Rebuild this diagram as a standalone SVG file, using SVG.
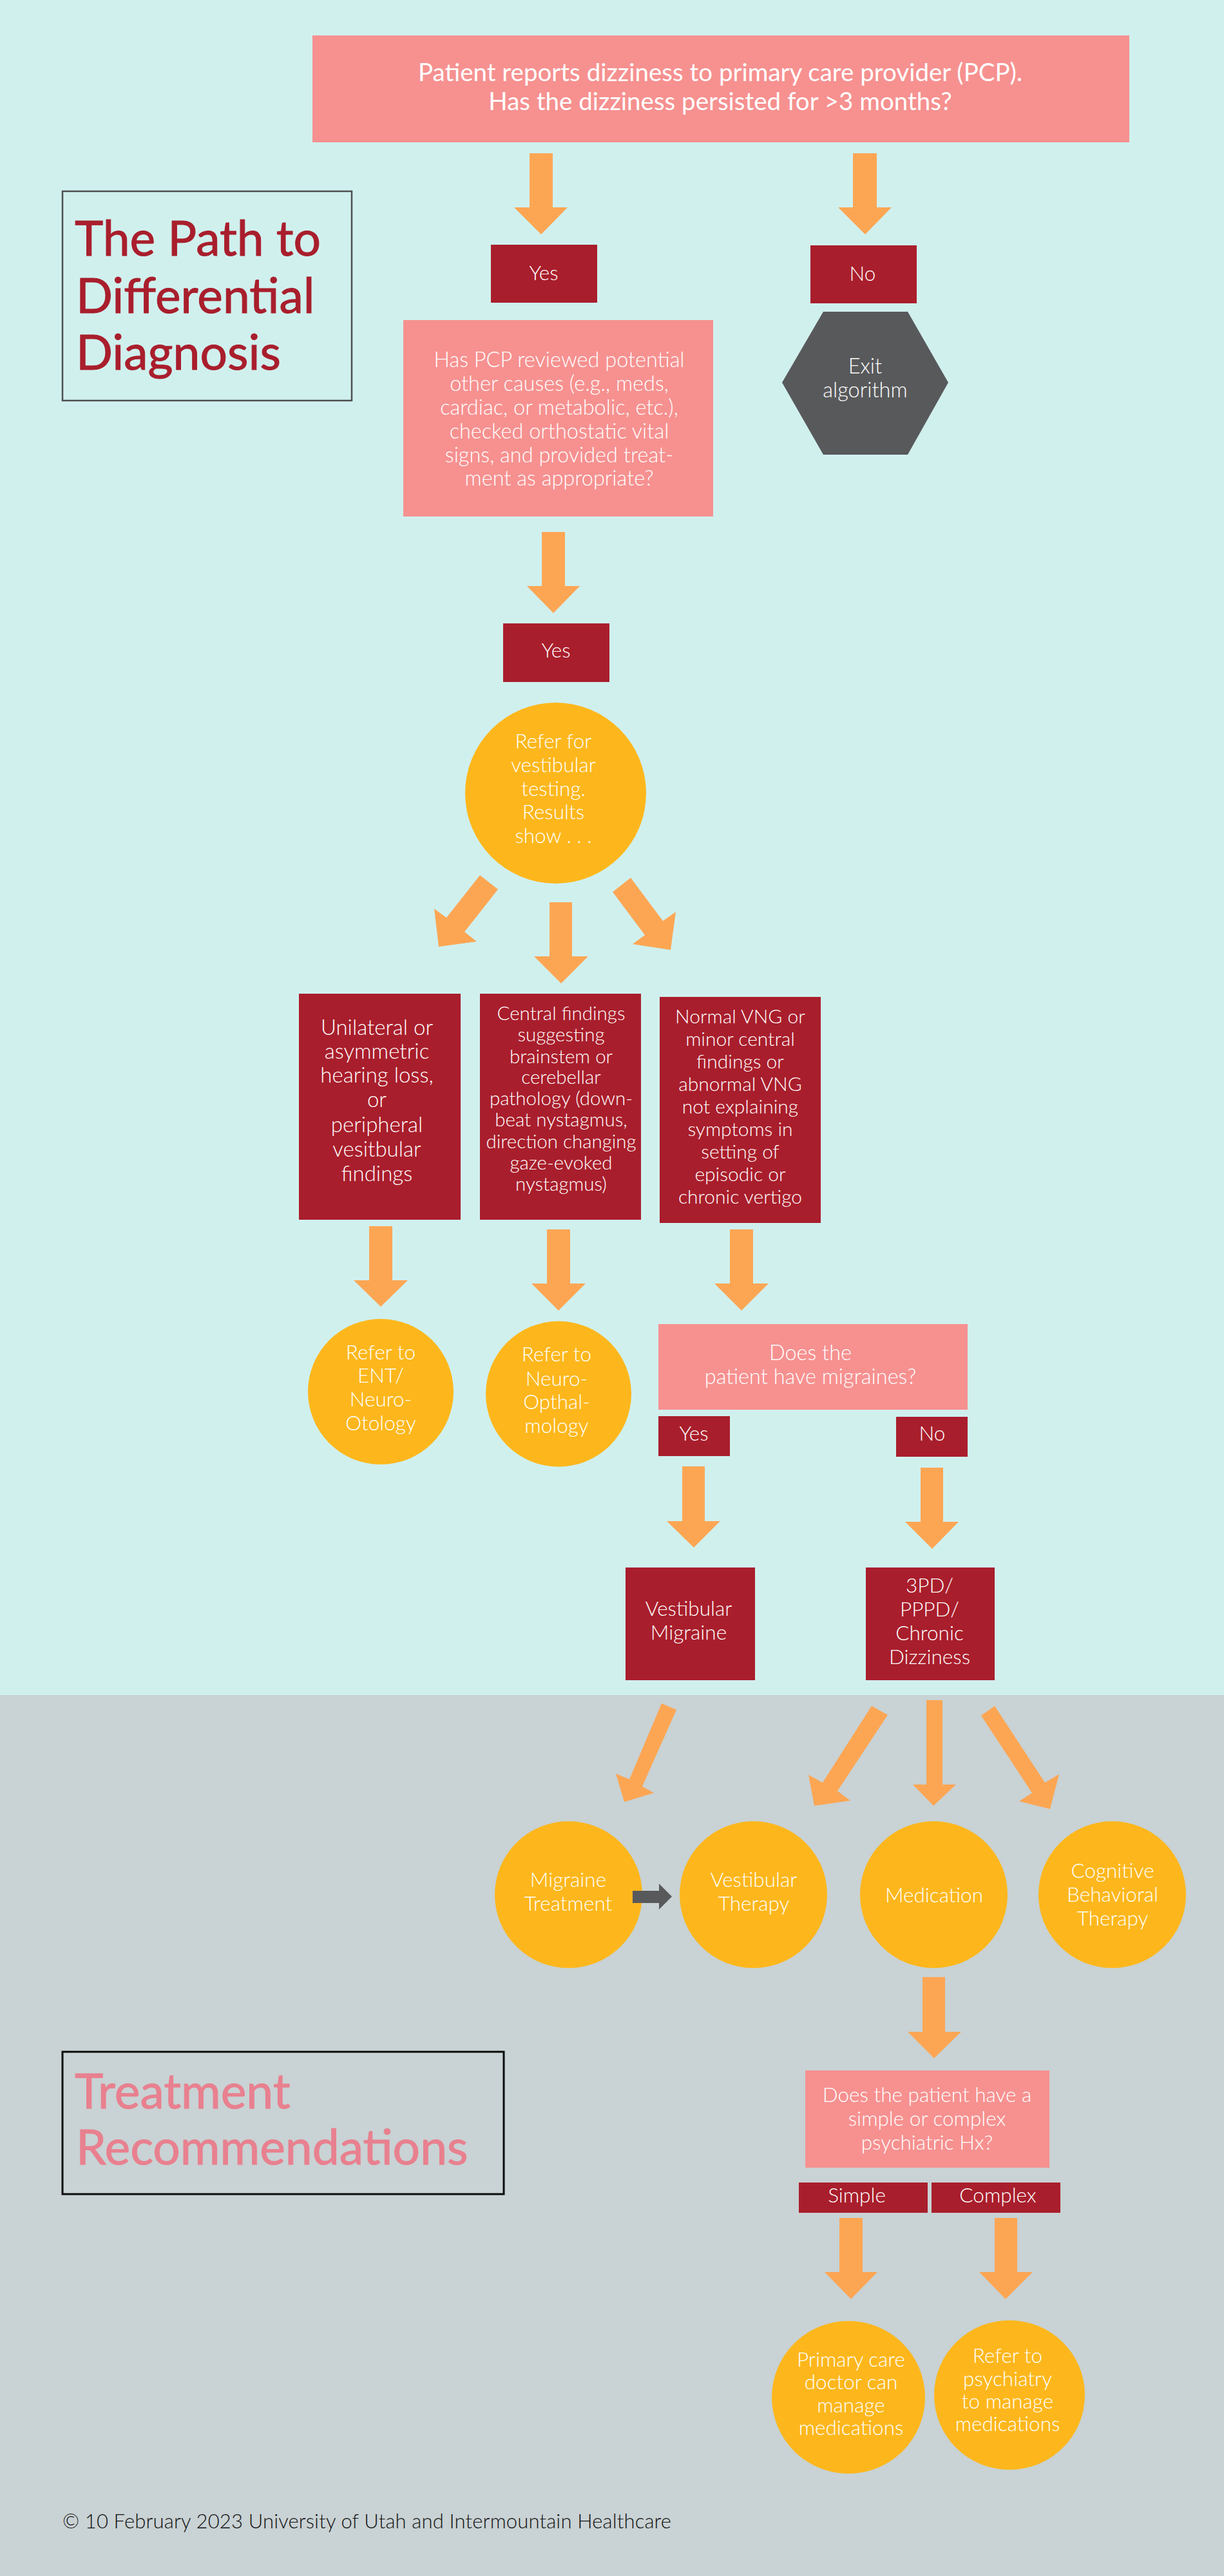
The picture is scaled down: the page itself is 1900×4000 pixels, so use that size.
<svg xmlns="http://www.w3.org/2000/svg" width="1900" height="4000" viewBox="0 0 1900 4000">
<style>
text{font-family:Lato,"Open Sans","Liberation Sans",sans-serif;font-weight:300;fill:#fff;text-anchor:middle}
.pink{fill:#F69190}.red{fill:#A91E2C}.gold{fill:#FDB71C}.arr{fill:#FCA654}
.s38{font-size:38.5px;font-weight:400}.s33{font-size:33px}.s32{font-size:32.5px}.s31{font-size:31.5px}.s30{font-size:30px}.s29{font-size:29.5px}
.h{font-size:75px;text-anchor:start;font-weight:400;stroke-width:1}
.hr{fill:#A91E2C;stroke:#A91E2C}.hp{fill:#E8808F;stroke:#E8808F}
</style>
<rect width="1900" height="2632" fill="#D0F0EE"/>
<rect y="2632" width="1900" height="1368" fill="#C9D2D4"/>
<g id="title1"><rect x="97" y="297" width="449" height="325" fill="none" stroke="#4D4F51" stroke-width="2.5"/>
<text class="h hr" x="116" y="397">The Path to</text>
<text class="h hr" x="118" y="486">Differential</text>
<text class="h hr" x="118" y="574">Diagnosis</text></g>
<g id="n-start"><rect class="pink" x="485" y="55" width="1268" height="166"/>
<text class="s38" x="1118" y="126">Patient reports dizziness to primary care provider (PCP).</text>
<text class="s38" x="1118" y="171">Has the dizziness persisted for &gt;3 months?</text></g>
<g id="n-yes1"><rect class="red" x="762" y="380" width="165" height="90"/><text class="s31" x="844" y="435">Yes</text></g>
<g id="n-no1"><rect class="red" x="1258" y="381" width="165" height="90"/><text class="s31" x="1339" y="436">No</text></g>
<g id="n-exit"><polygon fill="#58595B" points="1278,484 1409,484 1472,594 1409,706 1278,706 1214,594"/>
<text class="s32" x="1343" y="580">Exit</text><text class="s32" x="1343" y="617">algorithm</text></g>
<g id="n-review"><rect class="pink" x="626" y="497" width="481" height="305"/>
<text class="s32" x="868" y="570">Has PCP reviewed potential</text>
<text class="s32" x="868" y="607">other causes (e.g., meds,</text>
<text class="s32" x="868" y="644">cardiac, or metabolic, etc.),</text>
<text class="s32" x="868" y="681">checked orthostatic vital</text>
<text class="s32" x="868" y="718">signs, and provided treat-</text>
<text class="s32" x="868" y="754">ment as appropriate?</text></g>
<g id="n-yes2"><rect class="red" x="781" y="968" width="165" height="91"/><text class="s31" x="863" y="1021">Yes</text></g>
<g id="n-testing"><ellipse class="gold" cx="862.5" cy="1231.5" rx="140.5" ry="140.5"/>
<text class="s31" x="859" y="1162">Refer for</text>
<text class="s31" x="859" y="1199">vestibular</text>
<text class="s31" x="859" y="1236">testing.</text>
<text class="s31" x="859" y="1272">Results</text>
<text class="s31" x="859" y="1309">show . . .</text></g>
<g id="n-a"><rect class="red" x="464" y="1543" width="251" height="351"/>
<text class="s33" x="585" y="1607">Unilateral or</text>
<text class="s33" x="585" y="1644">asymmetric</text>
<text class="s33" x="585" y="1681">hearing loss,</text>
<text class="s33" x="585" y="1719">or</text>
<text class="s33" x="585" y="1758">peripheral</text>
<text class="s33" x="585" y="1796">vesitbular</text>
<text class="s33" x="585" y="1834">findings</text></g>
<g id="n-b"><rect class="red" x="745" y="1543" width="250" height="351"/>
<text class="s29" x="871" y="1584">Central findings</text>
<text class="s29" x="871" y="1617">suggesting</text>
<text class="s29" x="871" y="1651">brainstem or</text>
<text class="s29" x="871" y="1683">cerebellar</text>
<text class="s29" x="871" y="1716">pathology (down-</text>
<text class="s29" x="871" y="1749">beat nystagmus,</text>
<text class="s29" x="871" y="1783">direction changing</text>
<text class="s29" x="871" y="1816">gaze-evoked</text>
<text class="s29" x="871" y="1849">nystagmus)</text></g>
<g id="n-c"><rect class="red" x="1024" y="1548" width="250" height="351"/>
<text class="s30" x="1149" y="1589">Normal VNG or</text>
<text class="s30" x="1149" y="1624">minor central</text>
<text class="s30" x="1149" y="1659">findings or</text>
<text class="s30" x="1149" y="1694">abnormal VNG</text>
<text class="s30" x="1149" y="1729">not explaining</text>
<text class="s30" x="1149" y="1764">symptoms in</text>
<text class="s30" x="1149" y="1799">setting of</text>
<text class="s30" x="1149" y="1834">episodic or</text>
<text class="s30" x="1149" y="1869">chronic vertigo</text></g>
<g id="n-ent"><ellipse class="gold" cx="591" cy="2161" rx="113" ry="113"/>
<text class="s31" x="591" y="2111">Refer to</text><text class="s31" x="591" y="2147">ENT/</text><text class="s31" x="591" y="2184">Neuro-</text><text class="s31" x="591" y="2221">Otology</text></g>
<g id="n-neuro"><ellipse class="gold" cx="867" cy="2164.5" rx="113" ry="113"/>
<text class="s31" x="864" y="2114">Refer to</text><text class="s31" x="864" y="2152">Neuro-</text><text class="s31" x="864" y="2188">Opthal-</text><text class="s31" x="864" y="2225">mology</text></g>
<g id="n-migq"><rect class="pink" x="1022" y="2056" width="480" height="133"/>
<text class="s32" x="1258" y="2112">Does the</text><text class="s32" x="1258" y="2149">patient have migraines?</text></g>
<g id="n-yes3"><rect class="red" x="1022" y="2199" width="111" height="62"/><text class="s31" x="1077" y="2237">Yes</text></g>
<g id="n-no3"><rect class="red" x="1391" y="2200" width="111" height="62"/><text class="s31" x="1447" y="2237">No</text></g>
<g id="n-vm"><rect class="red" x="971" y="2434" width="201" height="175"/>
<text class="s31" x="1069" y="2509">Vestibular</text><text class="s31" x="1069" y="2546">Migraine</text></g>
<g id="n-3pd"><rect class="red" x="1344" y="2434" width="200" height="175"/>
<text class="s31" x="1443" y="2473">3PD/</text><text class="s31" x="1443" y="2510">PPPD/</text><text class="s31" x="1443" y="2547">Chronic</text><text class="s31" x="1443" y="2584">Dizziness</text></g>
<g id="n-mt"><ellipse class="gold" cx="882.5" cy="2942" rx="114.5" ry="114"/>
<text class="s31" x="882" y="2930">Migraine</text><text class="s31" x="882" y="2967">Treatment</text></g>
<g id="n-vt"><ellipse class="gold" cx="1169.5" cy="2942" rx="114.5" ry="114"/>
<text class="s31" x="1170" y="2930">Vestibular</text><text class="s31" x="1170" y="2967">Therapy</text></g>
<g id="n-med"><ellipse class="gold" cx="1449.5" cy="2942" rx="114.5" ry="114"/>
<text class="s31" x="1450" y="2954">Medication</text></g>
<g id="n-cbt"><ellipse class="gold" cx="1726.5" cy="2942" rx="114.5" ry="114"/>
<text class="s31" x="1727" y="2916">Cognitive</text><text class="s31" x="1727" y="2953">Behavioral</text><text class="s31" x="1727" y="2990">Therapy</text></g>
<g id="title2"><rect x="97" y="3186" width="685" height="221" fill="none" stroke="#0a0a0a" stroke-width="3"/>
<text class="h hp" x="116" y="3274">Treatment</text>
<text class="h hp" x="118" y="3361">Recommendations</text></g>
<g id="n-psyq"><rect class="pink" x="1250" y="3215" width="379" height="151"/>
<text class="s31" x="1439" y="3264">Does the patient have a</text><text class="s31" x="1439" y="3301">simple or complex</text><text class="s31" x="1439" y="3338">psychiatric Hx?</text></g>
<g id="n-simple"><rect class="red" x="1240" y="3389" width="200" height="47"/><text class="s31" x="1330" y="3420">Simple</text></g>
<g id="n-complex"><rect class="red" x="1446" y="3389" width="200" height="47"/><text class="s31" x="1549" y="3420">Complex</text></g>
<g id="n-pcp"><ellipse class="gold" cx="1317" cy="3722.5" rx="119" ry="118.5"/>
<text class="s31" x="1321" y="3675">Primary care</text><text class="s31" x="1321" y="3710">doctor can</text><text class="s31" x="1321" y="3746">manage</text><text class="s31" x="1321" y="3781">medications</text></g>
<g id="n-psy"><ellipse class="gold" cx="1567" cy="3719" rx="117" ry="116"/>
<text class="s31" x="1564" y="3669">Refer to</text><text class="s31" x="1564" y="3705">psychiatry</text><text class="s31" x="1564" y="3740">to manage</text><text class="s31" x="1564" y="3775">medications</text></g>
<text id="copyright" x="97" y="3926" textLength="945" style="font-size:31px;text-anchor:start;fill:#111">© 10 February 2023 University of Utah and Intermountain Healthcare</text>
<g id="connectors">
<polygon class="arr" points="822,238 858,238 858,322 881,322 840,364 798,322 822,322"/>
<polygon class="arr" points="1324,238 1361,238 1361,322 1384,322 1343,364 1301,322 1324,322"/>
<polygon class="arr" points="841,826 877,826 877,910 900,910 859,952 818,910 841,910"/>
<polygon class="arr" points="745,1359 773,1381 721,1447 740,1462 681,1470 674,1411 693,1425"/>
<polygon class="arr" points="853,1401 888,1401 888,1485 913,1485 871,1527 829,1485 853,1485"/>
<polygon class="arr" points="979,1363 951,1385 1001,1452 982,1466 1041,1475 1049,1416 1029,1430"/>
<polygon class="arr" points="573,1904 609,1904 609,1988 633,1988 591,2029 549,1988 573,1988"/>
<polygon class="arr" points="849,1909 885,1909 885,1993 909,1993 867,2035 825,1993 849,1993"/>
<polygon class="arr" points="1133,1909 1169,1909 1169,1993 1193,1993 1151,2035 1109,1993 1133,1993"/>
<polygon class="arr" points="1059,2277 1094,2277 1094,2362 1118,2362 1077,2403 1035,2362 1059,2362"/>
<polygon class="arr" points="1429,2279 1464,2279 1464,2363 1488,2363 1447,2405 1405,2363 1429,2363"/>
<polygon class="arr" points="1027,2645 1050,2655 997,2774 1015,2784 969,2798 956,2754 977,2763"/>
<polygon class="arr" points="1353,2649 1378,2663 1300,2781 1320,2796 1264,2804 1255,2756 1277,2768"/>
<polygon class="arr" points="1438,2640 1463,2640 1463,2771 1484,2771 1449,2804 1417,2771 1438,2771"/>
<polygon class="arr" points="1544,2649 1523,2664 1602,2784 1582,2797 1630,2809 1644,2755 1622,2768"/>
<polygon fill="#58595B" points="982,2936 1023,2936 1023,2925 1043,2945 1023,2965 1023,2955 982,2955"/>
<polygon class="arr" points="1432,3070 1467,3070 1467,3155 1492,3155 1450,3196 1409,3155 1432,3155"/>
<polygon class="arr" points="1303,3444 1339,3444 1339,3528 1362,3528 1321,3570 1280,3528 1303,3528"/>
<polygon class="arr" points="1544,3444 1579,3444 1579,3528 1603,3528 1561,3570 1520,3528 1544,3528"/>
</g>
</svg>
